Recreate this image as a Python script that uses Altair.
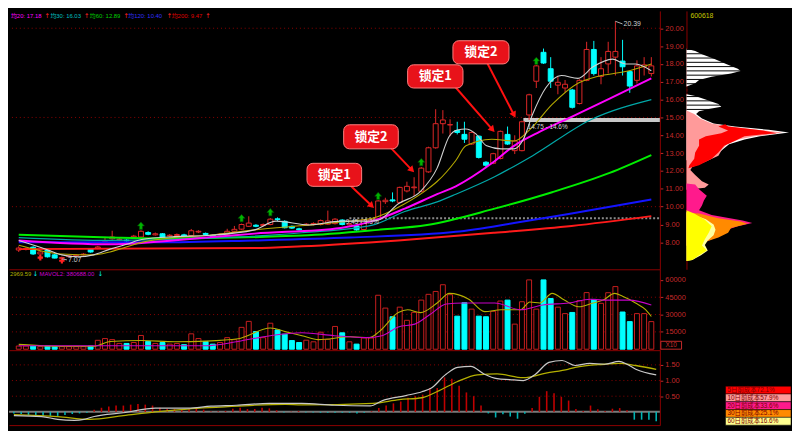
import math
import altair as alt
import numpy as np
import pandas as pd

# ---------------- values ----------------
opens = [7.57, 7.60, 7.73, 7.35, 7.57, 7.30, 7.10, 7.20, 7.24, 7.30,
         7.62, 7.68, 8.05, 8.20, 8.15, 8.12, 8.30, 8.30, 8.55, 8.42,
         8.48, 8.36, 8.38, 8.42, 8.38, 8.58, 8.50, 8.40, 8.42, 8.46,
         8.62, 8.74, 8.90, 8.96, 8.94, 9.00, 9.32, 9.18, 8.90, 8.76,
         8.96, 9.00, 9.00, 9.02, 9.05, 9.25, 8.98, 8.92, 8.72, 9.20,
         9.30, 10.28, 10.38, 10.24, 10.88, 11.06, 10.86, 11.95, 13.30, 14.65,
         14.58, 14.27, 14.05, 13.51, 13.95, 12.49, 12.43, 12.70, 14.05, 13.14,
         13.14, 15.14, 17.03, 18.65, 17.73, 16.81, 16.65, 16.54, 15.78, 17.08,
         18.81, 17.30, 18.00, 18.38, 18.16, 17.57, 17.08, 17.84, 17.46]
closes = [7.68, 7.66, 7.35, 7.46, 7.19, 7.12, 7.15, 7.24, 7.28, 7.34,
          7.46, 7.74, 8.10, 8.30, 8.18, 8.08, 8.35, 8.62, 8.45, 8.48,
          8.28, 8.40, 8.44, 8.36, 8.65, 8.62, 8.44, 8.30, 8.46, 8.62,
          8.73, 9.00, 9.08, 8.90, 9.00, 9.30, 9.28, 8.82, 8.80, 8.70,
          9.02, 9.06, 9.22, 9.20, 9.30, 9.00, 9.04, 8.70, 9.26, 9.30,
          10.32, 10.36, 10.32, 11.08, 11.14, 11.10, 12.16, 13.30, 14.65, 14.86,
          14.60, 14.16, 13.78, 14.16, 12.76, 12.32, 12.97, 14.22, 13.51, 13.68,
          14.76, 16.27, 17.89, 18.05, 17.03, 16.97, 16.86, 15.57, 17.08, 18.81,
          17.46, 17.73, 18.70, 18.70, 17.84, 16.76, 17.89, 17.95, 17.89]
highs = [7.78, 7.72, 7.78, 7.52, 7.62, 7.35, 7.20, 7.28, 7.33, 7.40,
         7.66, 7.80, 8.25, 8.65, 8.25, 8.18, 8.42, 8.68, 8.62, 8.55,
         8.52, 8.46, 8.50, 8.48, 8.75, 8.68, 8.55, 8.44, 8.52, 8.76,
         8.92, 9.05, 9.46, 9.02, 9.06, 9.36, 9.40, 9.24, 8.95, 8.82,
         9.08, 9.12, 9.28, 9.78, 9.36, 9.30, 9.10, 8.98, 9.30, 9.36,
         10.38, 10.50, 10.80, 11.12, 11.40, 11.65, 12.22, 13.36, 15.46, 15.41,
         14.90, 14.76, 14.76, 14.22, 14.00, 12.55, 13.02, 14.27, 14.49, 14.00,
         14.82, 16.33, 17.95, 18.86, 18.38, 17.30, 17.10, 16.60, 17.14, 19.24,
         19.29, 18.38, 19.24, 20.39, 19.35, 17.62, 18.20, 18.38, 18.38]
lows = [7.46, 7.55, 7.30, 7.30, 7.15, 7.10, 7.07, 7.16, 7.20, 7.26,
        7.42, 7.62, 7.98, 8.15, 8.10, 8.02, 8.25, 8.25, 8.40, 8.38,
        8.22, 8.32, 8.34, 8.32, 8.34, 8.52, 8.38, 8.25, 8.38, 8.42,
        8.58, 8.70, 8.86, 8.85, 8.90, 8.96, 9.20, 8.78, 8.75, 8.66,
        8.92, 8.95, 8.95, 8.98, 9.00, 8.95, 8.94, 8.65, 8.68, 9.14,
        9.28, 10.15, 10.25, 10.20, 10.80, 10.60, 10.80, 11.90, 13.25, 14.10,
        13.95, 14.05, 13.57, 13.46, 12.70, 12.16, 12.38, 12.65, 13.46, 12.95,
        13.10, 14.86, 16.65, 18.00, 16.65, 16.30, 16.40, 15.50, 15.73, 17.03,
        17.35, 16.86, 17.46, 17.35, 17.35, 16.38, 16.90, 17.35, 17.30]
volumes = [2750, 2700, 2700, 2200, 2700, 2200, 2200, 2200, 2200, 2200,
           2700, 7700, 9200, 8300, 5000, 5000, 5800, 11900, 6700, 5000,
           5800, 4400, 5000, 3900, 13300, 9200, 6700, 4400, 5800, 10000,
           8300, 18900, 24100, 15300, 10000, 22500, 16700, 13000, 7500, 5800,
           7800, 6400, 14700, 8600, 19700, 14200, 6400, 4400, 9700, 9700,
           46700, 35600, 28100, 36400, 25000, 31900, 42500, 47500, 50000, 55800,
           47200, 28600, 40300, 34700, 28600, 28100, 32800, 41700, 42500, 21700,
           41100, 60000, 34700, 60000, 43900, 36400, 30800, 31800, 42000, 49000,
           43100, 39700, 48900, 54200, 32200, 23900, 30800, 30800, 23900]
macd_bars = [-0.05, -0.07, -0.10, -0.13, -0.13, -0.13, -0.13, -0.10, -0.07, -0.05,
             -0.03, 0.07, 0.13, 0.17, 0.20, 0.20, 0.23, 0.25, 0.23, 0.20,
             0.13, 0.09, 0.09, 0.07, 0.09, 0.09, 0.07, 0.02, 0.02, 0.03,
             0.10, 0.13, 0.09, 0.09, 0.13, 0.11, 0.05, -0.02, 0.01, 0.03,
             -0.02, -0.02, -0.03, -0.03, -0.03, -0.03, -0.03, -0.05, -0.03, 0.02,
             0.12, 0.20, 0.27, 0.33, 0.45, 0.50, 0.55, 0.76, 0.76, 1.10,
             1.06, 0.83, 0.62, 0.50, 0.20, -0.05, -0.18, -0.08, -0.15, -0.22,
             -0.06, 0.12, 0.48, 0.66, 0.59, 0.48, 0.36, 0.09, 0.03, 0.20,
             0.08, 0.03, 0.10, 0.12, 0.05, -0.25, -0.25, -0.25, -0.30]

# moving averages (day index, value)
ma5_i = [0, 3.8, 6, 8.3, 10.4, 12.7, 15, 17.1, 21.7, 26.1, 32.8, 35.8, 40.4, 44.8, 48.4, 50, 52.8, 55.9,
         58.2, 59.9, 61, 62.2, 63.5, 65.1, 67.1, 68.9, 70.2, 71.5, 73.3, 75.5, 77.8, 79.9, 82.6, 84.4, 85.8, 88]
ma5_v = [8.11, 7.62, 7.30, 7.19, 7.30, 7.62, 7.89, 8.16, 8.32, 8.38, 8.70, 9.19, 8.97, 9.19, 9.19, 9.24, 10.16, 10.86,
         12.16, 13.95, 14.30, 14.35, 14.11, 13.41, 13.24, 13.24, 13.78, 15.19, 16.65, 17.35, 17.19, 17.84, 18.27, 18.00, 18.00, 17.62]
ma10_i = [0, 6, 10.4, 12.7, 17.1, 21.7, 26.1, 32.8, 40.4, 44.8, 49.2, 53.7, 57.2, 58.2, 60.8, 62.2, 65.8, 68.9,
          71.1, 74.2, 77.8, 80.5, 84.4, 88]
ma10_v = [7.84, 7.35, 7.30, 7.46, 8.00, 8.27, 8.38, 8.70, 8.97, 9.14, 9.35, 10.16, 11.08, 11.41, 12.59, 13.41, 13.78, 13.68,
          14.32, 15.73, 16.92, 17.30, 17.57, 18.00]
ma20_i = [0, 12.7, 26.1, 32.8, 44.8, 49.2, 53.7, 58.2, 60.8, 65.8, 68.9, 72.5, 76.9, 82.2, 88]
ma20_v = [8.11, 7.89, 8.27, 8.49, 8.81, 9.19, 9.89, 10.70, 11.14, 12.43, 13.41, 14.20, 15.03, 16.05, 17.19]
ma30_i = [0, 12.7, 26.1, 39.4, 49.2, 53.7, 58.2, 60.8, 66.2, 71.5, 79.5, 88]
ma30_v = [8.27, 8.11, 8.22, 8.54, 8.97, 9.73, 10.27, 10.70, 11.68, 12.86, 14.86, 16.00]
ma60_i = [0, 12.7, 19.4, 39.4, 50, 56.8, 66.2, 74.2, 82.2, 88]
ma60_v = [8.43, 8.27, 8.22, 8.38, 8.70, 8.97, 9.89, 10.81, 11.89, 12.89]
ma120_i = [0, 19.4, 32.8, 46.1, 60.8, 68.9, 76.9, 88]
ma120_v = [8.00, 8.00, 8.11, 8.27, 8.59, 9.08, 9.62, 10.40]
ma200_i = [0, 32.8, 39.4, 52.8, 66.2, 76.9, 88]
ma200_v = [7.62, 7.68, 7.78, 8.11, 8.54, 8.92, 9.47]

mavol1_i = [0, 6, 10.4, 12.7, 17.1, 21.7, 26.1, 30.5, 35, 37.2, 39.4, 41.7, 46.1, 48.8, 50.1, 52.8, 54.1, 55.9,
            58.2, 59.9, 62.6, 64.8, 67.1, 69.8, 71.1, 72.5, 74.2, 75.9, 77.9, 79.9, 81.3, 82.9, 84, 85.8, 87.2, 88]
mavol1_v = [4200, 2500, 2500, 6700, 7500, 6500, 7000, 9000, 18300, 15000, 11700, 8300, 10800, 10000, 15000, 31700, 34200, 31700,
            40000, 48300, 43300, 32500, 34200, 34200, 40800, 40000, 48300, 42500, 36700, 40000, 42500, 48300, 45800, 40000, 34200, 28300]
mavol2_i = [0, 26.1, 30.5, 35, 39.4, 43.9, 48.4, 50.5, 52.8, 55.1, 57.2, 59.5, 61.8, 66.2, 69.8, 72.9, 76.5, 79.5, 81.3, 84.9, 88]
mavol2_v = [3000, 3000, 6700, 11700, 14200, 11700, 10000, 11700, 19200, 21700, 30000, 39200, 40000, 40000, 34200, 38300,
            40000, 43300, 42500, 42500, 38300]

dif_i = [0, 3.8, 6, 8.3, 9.6, 11, 15, 19.4, 23.8, 27, 30.5, 35, 39.4, 43.9, 48.8, 50.5, 53.7, 55.9, 57.2, 59.1,
         60.8, 62.6, 64.4, 66.2, 67.9, 69.8, 71.5, 73.3, 75.1, 76.9, 78.9, 80.9, 82.9, 84, 85.2, 88]
dif_v = [-0.12, -0.15, -0.24, -0.27, -0.24, -0.15, -0.03, 0.12, 0.12, 0.18, 0.21, 0.27, 0.27, 0.21, 0.19, 0.36, 0.52, 0.64, 0.76, 1.18,
         1.42, 1.45, 1.21, 1.06, 1.03, 1.00, 1.21, 1.58, 1.64, 1.48, 1.55, 1.52, 1.61, 1.52, 1.36, 1.18]
dea_i = [0, 6, 10.4, 15, 19.4, 23.8, 28.3, 32.8, 37.2, 39.4, 49.2, 52.8, 55.9, 58.2, 60.8, 63.5, 66.2, 69.8, 72.9,
         75.9, 76.9, 80.9, 82.9, 85.2, 88]
dea_v = [-0.09, -0.15, -0.24, -0.12, 0.0, 0.09, 0.15, 0.21, 0.24, 0.22, 0.27, 0.39, 0.45, 0.67, 0.97, 1.18, 1.21, 1.09, 1.24,
         1.36, 1.42, 1.52, 1.55, 1.48, 1.36]

# chip distribution (price, width)
white_p = [18.85, 18.72, 18.54, 18.27, 18.0, 17.73, 17.6, 17.46, 17.28, 17.1, 16.92, 16.74, 16.3, 16.2, 16.02, 15.75,
           15.6, 15.48, 15.35, 15.2, 14.94, 14.66, 14.49, 14.31, 14.16, 14.04, 13.95, 13.77, 13.5, 13.23, 12.86, 12.6]
white_w = [0, 9, 16, 29, 41, 53, 56, 46, 26, 13, 9, 0, 0, 9, 19, 33, 36, 23, 13, 10, 16, 28, 50, 85, 106, 90, 76, 60, 44, 38, 30, 0]
salmon_p = [15.39, 15.2, 14.94, 14.66, 14.49, 14.31, 14.16, 14.04, 13.95, 13.77, 13.5, 13.23, 12.86, 12.5, 12.23, 12.05,
            11.78, 11.42, 11.24, 11.06, 10.95]
salmon_w = [0, 8, 14, 26, 46, 73, 99, 86, 70, 54, 42, 37, 33, 19, 6, 4, 9, 16, 23, 19, 0]
red_p = [14.62, 14.49, 14.27, 14.12, 13.95, 13.77, 13.41, 13.04, 12.69, 12.32, 12.15]
red_a = [40, 33, 43, 36, 20, 13, 13, 9, 8, 3, 2]
red_b = [40, 43, 79, 93, 60, 53, 39, 33, 26, 13, 2]
magenta_p = [11.3, 11.24, 10.97, 10.61, 10.34, 10.07, 9.8, 9.53, 9.23, 9.08, 8.9, 8.72, 8.45, 8.18, 8.0, 7.85]
magenta_w = [0, 9, 13, 21, 18, 16, 13, 26, 58, 68, 53, 43, 38, 26, 19, 0]
orange_p = [9.66, 9.62, 9.35, 9.17, 9.04, 8.81, 8.54, 8.27, 8.09, 7.91, 7.8]
orange_w = [0, 13, 33, 56, 63, 46, 43, 33, 23, 13, 0]
pale_p = [9.7, 9.3, 9.0, 8.7, 8.4, 8.1, 7.85, 7.55, 7.28, 7.01, 6.95]
pale_w = [0, 20, 28, 30, 28, 22, 19, 22, 15, 6, 0]
yellow_p = [9.8, 9.77, 9.62, 9.26, 8.9, 8.54, 8.18, 7.82, 7.55, 7.28, 7.01, 6.95]
yellow_w = [0, 1, 8, 19, 26, 23, 19, 16, 21, 13, 6, 0]

chip_legend = ["5日前成本72.1%", "10日前成本57.9%", "20日前成本33.6%", "30日前成本25.1%", "60日前成本16.6%"]
ma_legend = ["均20: 17.18", "均30: 16.03", "均60: 12.89", "均120: 10.40", "均200: 9.47"]
vol_legend = ["2969.59", "MAVOL2: 380688.00"]
stock_code = "600618"

price_ticks = [8, 9, 10, 11, 12, 13, 14, 15, 16, 17, 18, 19, 20]
price_grid = [10, 15, 20]
vol_ticks = [15000, 30000, 45000, 60000]
vol_grid = [15000, 30000, 45000]
macd_ticks = [0.5, 1.0, 1.5]

lock_text = ["锁定1", "锁定2", "锁定1", "锁定2"]
lock_i0 = [40.1, 45.2, 54.1, 60.4]
lock_i1 = [47.7, 52.8, 61.8, 68.2]
lock_p0 = [11.14, 13.24, 16.65, 18.00]
lock_p1 = [12.43, 14.59, 17.95, 19.30]
arrow_i0 = [45.7, 51.5, 60.4, 65.1]
arrow_p0 = [11.35, 13.41, 16.86, 18.11]
arrow_i1 = [49.1, 54.7, 65.9, 68.9]
arrow_p1 = [10.05, 12.05, 14.32, 15.14]

up_mark_i = [17, 31, 35, 50, 56, 72]
up_mark_p = [8.92, 9.35, 9.68, 10.59, 12.49, 18.16]
dn_mark_i = [3, 6]
dn_mark_p = [7.14, 6.97]

hl_text = ["20.39", "7.07"]
hl_i = [83, 6]
hl_p = [20.39, 7.07]
hl_ti = [84.0, 6.7]
hl_tp = [20.24, 7.02]

zone_text = ["14.75 - 14.6%", "9.45 - 9.3%"]
zone_p = [14.86, 9.35]
zone_i0 = [70.2, 46.0]
zone_ti = [70.8, 45.5]
zone_tp = [14.47, 9.13]

# ---------------- layout / style ----------------
W, HP, HV, HM, AXW, CW = 660, 262, 82, 76, 26, 105
X_DOM = [-0.67, 88.5]
P_DOM = [6.49, 20.97]
V_DOM = [-833, 69167]
M_DOM = [-0.424, 1.97]
DR = "#8c0000"
LAB = "#c42a2a"
RED = "#e02828"
CYAN = "#00ffff"
CJK = "Noto Sans CJK SC"
NUM = "Liberation Sans"
MIX = "Liberation Sans, Noto Sans CJK SC"
UP = "datum.close >= datum.open"

XS = alt.Scale(domain=X_DOM, nice=False, zero=False)
XAX = alt.Axis(labels=False, ticks=False, grid=False, domain=True, domainColor=DR, title=None)


def X(f):
    return alt.X(f"{f}:Q", scale=XS, axis=XAX)


def raxis(values, fmt):
    return alt.Axis(orient="right", values=values, format=fmt, labelColor=LAB, labelFont=NUM,
                    labelFontSize=7.5, tickColor=LAB, tickSize=3, domain=True, domainColor=DR,
                    grid=False, title=None, minExtent=AXW, maxExtent=AXW, labelPadding=2)


PS = alt.Scale(domain=P_DOM, nice=False, zero=False)
PAX = raxis(price_ticks, ".2f")
VS = alt.Scale(domain=V_DOM, nice=False, zero=False)
VAX = raxis(vol_ticks, "d")
MS = alt.Scale(domain=M_DOM, nice=False, zero=False)
MAX_ = raxis(macd_ticks, ".2f")


def PY(f):
    return alt.Y(f"{f}:Q", scale=PS, axis=PAX)


def VY(f):
    return alt.Y(f"{f}:Q", scale=VS, axis=VAX)


def MY(f):
    return alt.Y(f"{f}:Q", scale=MS, axis=MAX_)


def line(xs, ys, ych, color, width, interp="monotone"):
    df = pd.DataFrame({"i": xs, "v": ys})
    return alt.Chart(df).mark_line(color=color, strokeWidth=width, interpolate=interp).encode(x=X("i"), y=ych("v"))


def label(text, x, y, color, size=6, font=NUM, align="left"):
    return alt.Chart(pd.DataFrame({"t": [text]})).mark_text(
        align=align, baseline="middle", fontSize=size, font=font, color=color
    ).encode(x=alt.value(x), y=alt.value(y), text="t:N")


N = len(opens)
candles = pd.DataFrame({"i": list(range(N)), "open": opens, "close": closes, "high": highs,
                        "low": lows, "vol": volumes, "macd": macd_bars})
base = alt.Chart(candles)

# ---------------- price panel ----------------
grid_p = alt.Chart(pd.DataFrame({"p": price_grid})).mark_rule(
    color=DR, strokeDash=[1, 3], strokeWidth=1).encode(y=PY("p"))
zone_df = pd.DataFrame({"i": zone_i0, "p": zone_p, "ti": zone_ti, "tp": zone_tp, "t": zone_text})
zone_bar = alt.Chart(zone_df.iloc[[0]]).mark_rule(color="#c8c8c8", strokeWidth=4).encode(
    x=X("i"), x2=alt.value(W), y=PY("p"))
zone_dot = alt.Chart(zone_df.iloc[[1]]).mark_rule(color="#8a8a8a", strokeWidth=2, strokeDash=[2, 2]).encode(
    x=X("i"), x2=alt.value(W), y=PY("p"))
zone_lbl = alt.Chart(zone_df).mark_text(align="left", baseline="middle", fontSize=6.5, font=NUM,
                                         color="#d8d8d8").encode(x=X("ti"), y=PY("tp"), text="t:N")

wicks = base.mark_rule(strokeWidth=1).encode(
    x=X("i"), y=PY("low"), y2="high",
    color=alt.condition(UP, alt.value(RED), alt.value(CYAN)))
bodies = base.mark_bar(size=5, strokeWidth=1).encode(
    x=X("i"), y=PY("open"), y2="close",
    fill=alt.condition(UP, alt.value("#000000"), alt.value(CYAN)),
    stroke=alt.condition(UP, alt.value(RED), alt.value(CYAN)))

ma_lines = [
    line(ma200_i, ma200_v, PY, "#ff1a1a", 2),
    line(ma120_i, ma120_v, PY, "#1414ff", 2),
    line(ma60_i, ma60_v, PY, "#00ee00", 2),
    line(ma30_i, ma30_v, PY, "#00a8a8", 1.2),
    line(ma20_i, ma20_v, PY, "#ff00ff", 2),
    line(ma10_i, ma10_v, PY, "#b4a800", 1.1),
    line(ma5_i, ma5_v, PY, "#d0d0d0", 1.1),
]

PX_I = W / (X_DOM[1] - X_DOM[0])
PX_P = HP / (P_DOM[1] - P_DOM[0])
angles = [math.degrees(math.atan2((b - a) * PX_I, (d - c) * PX_P)) % 360
          for a, b, c, d in zip(arrow_i0, arrow_i1, arrow_p0, arrow_p1)]
arr_df = pd.DataFrame({"i0": arrow_i0, "p0": arrow_p0, "i1": arrow_i1, "p1": arrow_p1, "ang": angles})
arrows = alt.Chart(arr_df).mark_rule(color="#ff1010", strokeWidth=2).encode(
    x=X("i0"), y=PY("p0"), x2="i1", y2="p1")
heads = alt.Chart(arr_df).mark_point(shape="triangle-up", filled=True, size=55, color="#ff1010", opacity=1).encode(
    x=X("i1"), y=PY("p1"), angle=alt.Angle("ang:Q", scale=None))

lock_df = pd.DataFrame({"i0": lock_i0, "i1": lock_i1, "p0": lock_p0, "p1": lock_p1, "t": lock_text})
boxes = alt.Chart(lock_df).mark_rect(fill="#e8121a", stroke="#ff8080", strokeWidth=1, cornerRadius=6).encode(
    x=X("i0"), x2="i1", y=PY("p0"), y2="p1")
box_txt = alt.Chart(lock_df).transform_calculate(
    ic="(datum.i0 + datum.i1) / 2", pc="(datum.p0 + datum.p1) / 2"
).mark_text(font=CJK, fontSize=13, fontWeight="bold", color="#ffffff", baseline="middle").encode(
    x=X("ic"), y=PY("pc"), text="t:N")

UP_ARROW = "M0,-1L0.9,0L0.4,0L0.4,0.9L-0.4,0.9L-0.4,0L-0.9,0Z"
up_marks = alt.Chart(pd.DataFrame({"i": up_mark_i, "p": up_mark_p})).mark_point(
    shape=UP_ARROW, filled=True, size=60, color="#00b400", stroke="#005000", strokeWidth=0.6, opacity=1
).encode(x=X("i"), y=PY("p"))
dn_marks = alt.Chart(pd.DataFrame({"i": dn_mark_i, "p": dn_mark_p})).mark_point(
    shape="cross", filled=True, size=30, color="#ff2020", opacity=1).encode(x=X("i"), y=PY("p"))

hl_df = pd.DataFrame({"i": hl_i, "p": hl_p, "ti": hl_ti, "tp": hl_tp, "t": hl_text})
hl_rule = alt.Chart(hl_df).mark_rule(color="#b0b0b0", strokeWidth=1).encode(
    x=X("i"), y=PY("p"), x2="ti", y2="tp")
hl_lbl = alt.Chart(hl_df).mark_text(align="left", baseline="middle", fontSize=7, font=NUM,
                                     color="#d0d0d0", dx=1).encode(x=X("ti"), y=PY("tp"), text="t:N")

legend_colors = ["#ff00ff", "#00c0c0", "#00d000", "#3030ff", "#e00000"]
legend_pos = [(2, 36), (42, 76), (82, 116), (121, 160), (165, 199)]
legend_layers = []
for txt, col, (lx, ax) in zip(ma_legend, legend_colors, legend_pos):
    legend_layers.append(label(txt, lx, 5, col, size=6, font=MIX))
    legend_layers.append(label("↑", ax, 5, "#ff2020", size=6.5, font="DejaVu Sans"))

price = alt.layer(grid_p, zone_dot, zone_bar, wicks, bodies, *ma_lines, zone_lbl,
                  arrows, heads, boxes, box_txt, up_marks, dn_marks, hl_rule, hl_lbl,
                  *legend_layers).properties(width=W, height=HP)

# ---------------- volume panel ----------------
grid_v = alt.Chart(pd.DataFrame({"v": vol_grid})).mark_rule(
    color=DR, strokeDash=[1, 3], strokeWidth=1).encode(y=VY("v"))
vbars = base.mark_bar(size=5, strokeWidth=1).encode(
    x=X("i"), y=VY("vol"), y2=alt.datum(0),
    fill=alt.condition(UP, alt.value("#000000"), alt.value(CYAN)),
    stroke=alt.condition(UP, alt.value("#c81e1e"), alt.value(CYAN)))
mv1 = line(mavol1_i, mavol1_v, VY, "#b4b000", 1.1)
mv2 = line(mavol2_i, mavol2_v, VY, "#c800c8", 1.1)
x10_box = alt.Chart(pd.DataFrame({"a": [0]})).mark_rect(fillOpacity=0, stroke=LAB, strokeWidth=1).encode(
    x=alt.value(W + 1), x2=alt.value(W + 22), y=alt.value(HV - 9), y2=alt.value(HV - 1))
vol = alt.layer(
    grid_v, vbars, mv1, mv2,
    label(vol_legend[0], 1, 5, "#b4b000"),
    label("↓", 24, 5, CYAN, size=6.5, font="DejaVu Sans"),
    label(vol_legend[1], 31, 5, "#d000d0"),
    label("↓", 90, 5, CYAN, size=6.5, font="DejaVu Sans"),
    x10_box,
    label("X10", W + 11.5, HV - 5, LAB, size=6.5, align="center"),
).properties(width=W, height=HV)

# ---------------- MACD panel ----------------
grid_m = alt.Chart(pd.DataFrame({"m": macd_ticks})).mark_rule(
    color=DR, strokeDash=[1, 3], strokeWidth=1).encode(y=MY("m"))
zero_m = alt.Chart(pd.DataFrame({"m": [0.0]})).mark_rule(color="#7a7a7a", strokeWidth=2).encode(y=MY("m"))
hist = base.mark_rule(strokeWidth=1.6).encode(
    x=X("i"), y=MY("macd"), y2=alt.datum(0),
    color=alt.condition("datum.macd >= 0", alt.value("#c00000"), alt.value("#00b4b4")))
macd = alt.layer(grid_m, zero_m, hist,
                 line(dea_i, dea_v, MY, "#b4b000", 1.3),
                 line(dif_i, dif_v, MY, "#c8c8c8", 1.2)).properties(width=W, height=HM)

# ---------------- chip distribution ----------------
CS = alt.Scale(domain=[0, 107], nice=False, zero=False)
CAX = alt.Axis(orient="left", labels=False, ticks=False, grid=False, domain=True, domainColor=DR,
               title=None, minExtent=0, maxExtent=0)


def CX(f):
    return alt.X(f"{f}:Q", scale=CS, axis=None)


def CY(f):
    return alt.Y(f"{f}:Q", scale=PS, axis=CAX)


def chip_area(ps, ws, color):
    return alt.Chart(pd.DataFrame({"p": ps, "w": ws})).mark_area(
        orient="horizontal", color=color, interpolate="linear").encode(y=CY("p"), x=CX("w"))


stripes = np.arange(15.45, 18.9, 0.24)
chip = alt.layer(
    chip_area(white_p, white_w, "#ffffff"),
    chip_area(salmon_p, salmon_w, "#ff9a9a"),
    alt.Chart(pd.DataFrame({"p": red_p, "a": red_a, "b": red_b})).mark_area(
        orient="horizontal", color="#ff0000").encode(y=CY("p"), x=CX("a"), x2="b"),
    chip_area(magenta_p, magenta_w, "#ff1a8c"),
    chip_area(orange_p, orange_w, "#ff8a00"),
    chip_area(pale_p, pale_w, "#ffffa0"),
    chip_area(yellow_p, yellow_w, "#ffff00"),
    alt.Chart(pd.DataFrame({"p": stripes})).mark_rule(color="#000000", strokeWidth=1).encode(y=CY("p")),
    label(stock_code, 4, 5, "#c8c800", size=7),
).properties(width=CW, height=HP)

KS = alt.Scale(domain=[4.875, -15.5], nice=False, zero=False)
cl = alt.Chart(pd.DataFrame({"t": chip_legend, "k": list(range(len(chip_legend)))}))
chip_leg = alt.layer(
    cl.transform_calculate(k0="datum.k - 0.5", k1="datum.k + 0.5").mark_rect(
        stroke="#000000", strokeWidth=0.5).encode(
        x=alt.value(39.6), x2=alt.value(CW + 1),
        y=alt.Y("k0:Q", scale=KS, axis=None), y2="k1:Q",
        color=alt.Color("t:N", scale=alt.Scale(domain=chip_legend,
                                               range=["#ff0000", "#ff9a9a", "#ff1a8c", "#ff8a00", "#ffff90"]),
                        legend=None)),
    cl.mark_text(align="left", baseline="middle", fontSize=6.5, font=MIX, color="#7a0000").encode(
        x=alt.value(41.5), y=alt.Y("k:Q", scale=KS, axis=None), text="t:N"),
).properties(width=CW, height=HV + HM + 3)

left = alt.vconcat(price, vol, macd, spacing=0)
right = alt.vconcat(chip, chip_leg, spacing=0)
chart = alt.hconcat(left, right, spacing=0).properties(padding=0).configure(
    background="#000000", view=alt.ViewConfig(stroke=None))

chart.save("out.html", embed_options={"renderer": "svg", "actions": False})
